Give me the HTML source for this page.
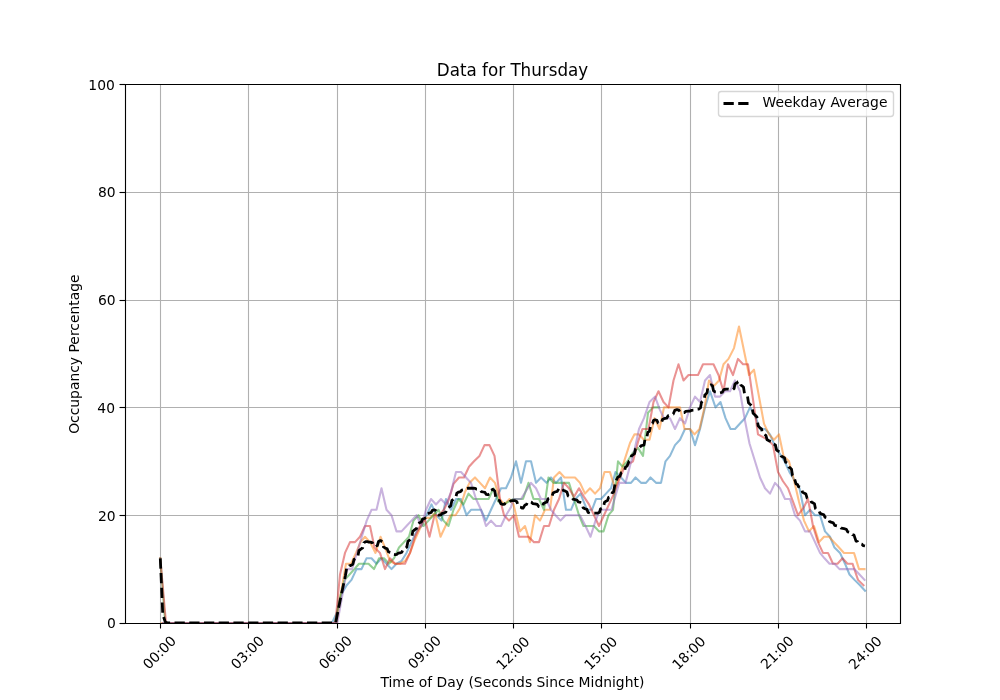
<!DOCTYPE html>
<html lang="en"><head><meta charset="utf-8"><title>Data for Thursday</title>
<style>html,body{margin:0;padding:0;background:#fff;}body{width:1000px;height:700px;overflow:hidden;}svg{display:block;}text{font-family:"DejaVu Sans","Liberation Sans",sans-serif;fill:#000;}</style></head><body>
<svg width="1000" height="700" viewBox="0 0 1000 700">
<rect x="0" y="0" width="1000" height="700" fill="#ffffff"/>
<g stroke="#b0b0b0" stroke-width="1.111">
<line x1="160.5" y1="84" x2="160.5" y2="623"/>
<line x1="248.5" y1="84" x2="248.5" y2="623"/>
<line x1="337.5" y1="84" x2="337.5" y2="623"/>
<line x1="425.5" y1="84" x2="425.5" y2="623"/>
<line x1="513.5" y1="84" x2="513.5" y2="623"/>
<line x1="601.5" y1="84" x2="601.5" y2="623"/>
<line x1="690.5" y1="84" x2="690.5" y2="623"/>
<line x1="778.5" y1="84" x2="778.5" y2="623"/>
<line x1="866.5" y1="84" x2="866.5" y2="623"/>
<line x1="125" y1="623.5" x2="900" y2="623.5"/>
<line x1="125" y1="515.5" x2="900" y2="515.5"/>
<line x1="125" y1="407.5" x2="900" y2="407.5"/>
<line x1="125" y1="300.5" x2="900" y2="300.5"/>
<line x1="125" y1="192.5" x2="900" y2="192.5"/>
<line x1="125" y1="84.5" x2="900" y2="84.5"/>
</g>
<g stroke="#000" stroke-width="1.111">
<line x1="160.5" y1="623" x2="160.5" y2="628.5"/>
<line x1="248.5" y1="623" x2="248.5" y2="628.5"/>
<line x1="337.5" y1="623" x2="337.5" y2="628.5"/>
<line x1="425.5" y1="623" x2="425.5" y2="628.5"/>
<line x1="513.5" y1="623" x2="513.5" y2="628.5"/>
<line x1="601.5" y1="623" x2="601.5" y2="628.5"/>
<line x1="690.5" y1="623" x2="690.5" y2="628.5"/>
<line x1="778.5" y1="623" x2="778.5" y2="628.5"/>
<line x1="866.5" y1="623" x2="866.5" y2="628.5"/>
<line x1="119.5" y1="623.5" x2="125" y2="623.5"/>
<line x1="119.5" y1="515.5" x2="125" y2="515.5"/>
<line x1="119.5" y1="407.5" x2="125" y2="407.5"/>
<line x1="119.5" y1="300.5" x2="125" y2="300.5"/>
<line x1="119.5" y1="192.5" x2="125" y2="192.5"/>
<line x1="119.5" y1="84.5" x2="125" y2="84.5"/>
</g>
<defs><clipPath id="ax"><rect x="125" y="84" width="775" height="539.5"/></clipPath></defs>
<g clip-path="url(#ax)" fill="none" stroke-width="2.083" stroke-linejoin="round" stroke-linecap="butt">
<path d="M163.00,623.00 L332.00,623.00 L337.00,612.22 L341.80,593.36 L346.70,585.27 L351.50,579.88 L356.50,569.10 L361.50,569.10 L366.50,558.32 L371.50,558.32 L376.50,563.71 L381.50,558.32 L386.50,563.71 L391.50,569.10 L396.50,563.71 L401.50,561.01 L406.50,552.93 L411.50,542.15 L416.50,531.37 L421.50,525.98 L426.50,515.20 L431.50,504.42 L436.50,515.20 L441.50,520.59 L446.00,499.03 L451.00,509.81 L456.00,499.03 L461.00,499.03 L466.50,515.20 L471.00,509.81 L476.00,509.81 L481.00,509.81 L486.00,520.59 L491.00,509.81 L496.00,499.03 L501.00,488.25 L506.00,488.25 L511.00,477.47 L516.00,461.30 L521.00,482.86 L526.00,461.30 L531.00,461.30 L536.00,482.86 L541.00,477.47 L546.50,482.86 L551.00,477.47 L556.00,482.86 L561.00,477.47 L566.00,509.81 L571.00,509.81 L575.50,499.03 L580.50,493.64 L587.00,509.81 L592.00,509.81 L596.00,499.03 L601.00,499.03 L606.00,493.64 L611.00,488.25 L615.50,472.08 L621.00,477.47 L626.00,482.86 L631.00,482.86 L635.50,477.47 L641.00,482.86 L646.00,482.86 L650.50,477.47 L656.00,482.86 L661.00,482.86 L665.50,461.30 L670.00,455.91 L675.00,445.13 L680.00,439.74 L685.00,428.96 L690.00,428.96 L695.00,445.13 L700.00,428.96 L705.00,407.40 L710.00,391.23 L715.50,407.40 L720.50,402.01 L725.50,418.18 L730.50,428.96 L735.00,428.96 L740.00,423.57 L745.00,418.18 L750.00,407.40 L755.00,415.49 L760.00,428.96 L765.00,428.96 L770.00,434.35 L774.50,445.13 L779.50,453.22 L784.50,461.30 L789.50,472.08 L794.50,480.17 L799.50,488.25 L805.00,515.20 L810.00,509.81 L815.00,515.20 L820.00,515.20 L825.00,531.37 L830.00,536.76 L834.50,547.54 L840.00,552.93 L845.00,563.71 L849.50,574.49 L854.50,579.88 L860.00,585.27 L865.00,590.66" stroke="#1f77b4" stroke-opacity="0.5" stroke-linecap="square"/>
<path d="M161.80,623.00 L336.40,623.00 L341.30,590.66 L346.00,563.71 L351.00,563.71 L356.00,552.93 L360.50,542.15 L365.00,536.76 L370.00,542.15 L375.50,552.93 L380.50,536.76 L385.00,547.54 L390.00,561.01 L395.00,563.71 L400.00,563.71 L405.00,561.01 L410.00,552.93 L415.00,539.46 L420.00,528.67 L425.00,517.89 L430.00,517.89 L435.00,513.04 L440.50,536.76 L445.50,525.98 L450.50,515.20 L455.50,515.20 L460.00,508.19 L465.00,492.02 L469.50,482.86 L475.00,477.47 L480.00,482.86 L485.00,488.25 L490.00,477.47 L495.00,482.86 L499.50,499.03 L504.50,504.42 L509.50,499.03 L513.50,504.42 L520.00,531.37 L525.00,525.98 L530.00,542.15 L535.00,515.20 L540.00,520.59 L545.00,509.81 L550.00,509.81 L554.00,477.47 L559.50,472.08 L564.50,477.47 L569.50,477.47 L575.00,477.47 L580.00,482.86 L585.00,493.64 L590.00,488.25 L595.00,493.64 L600.00,488.25 L604.50,472.08 L610.00,472.08 L615.00,488.25 L620.00,474.77 L625.00,458.61 L630.00,442.97 L634.50,434.35 L639.00,434.35 L644.00,439.74 L649.50,439.74 L654.50,418.18 L659.50,428.96 L664.00,407.40 L669.00,407.40 L674.00,407.40 L680.00,407.40 L684.50,428.96 L690.00,428.96 L694.50,434.35 L699.50,428.96 L704.50,407.40 L709.00,380.45 L714.00,385.84 L719.00,380.45 L723.50,364.28 L728.50,358.89 L734.00,348.11 L739.00,326.55 L744.00,350.81 L749.00,375.06 L754.00,369.67 L759.00,396.62 L764.00,423.57 L769.00,434.35 L774.00,439.74 L779.00,434.35 L783.50,455.91 L789.00,461.30 L794.00,480.17 L799.00,501.73 L804.00,520.59 L809.00,531.37 L814.00,525.98 L819.00,542.15 L824.00,536.76 L829.00,536.76 L834.00,542.15 L839.00,547.54 L844.00,552.93 L849.00,552.93 L854.00,552.93 L859.00,569.10 L864.50,569.10" stroke="#ff7f0e" stroke-opacity="0.5" stroke-linecap="square"/>
<path d="M160.30,558.32 L165.20,623.00 L335.00,623.00 L339.70,598.75 L344.60,579.88 L349.50,574.49 L354.40,569.10 L359.00,563.71 L364.00,563.71 L368.50,563.71 L374.00,569.10 L379.00,558.32 L384.00,558.32 L389.00,563.71 L394.00,558.32 L399.00,547.54 L404.00,542.15 L409.00,536.76 L413.50,520.59 L418.50,515.20 L423.50,525.98 L428.50,520.59 L433.50,515.20 L438.50,509.81 L443.50,520.59 L448.50,525.98 L453.50,509.81 L458.50,499.03 L463.50,504.42 L468.50,493.64 L473.50,499.03 L478.50,499.03 L483.50,499.03 L488.50,499.03 L493.50,488.25 L498.50,501.73 L503.50,504.42 L508.50,501.73 L513.50,499.03 L518.50,499.03 L523.00,499.03 L528.50,482.86 L533.50,499.03 L539.00,499.03 L544.00,509.81 L548.50,477.47 L553.50,482.86 L559.00,482.86 L564.00,482.86 L569.00,482.86 L574.00,499.03 L579.00,515.20 L583.50,525.98 L588.50,525.98 L594.00,525.98 L599.00,531.37 L603.50,531.37 L608.50,515.20 L613.00,509.81 L618.00,461.30 L622.50,466.69 L627.50,461.30 L632.50,453.22 L638.00,447.83 L643.00,455.91 L648.00,412.79 L653.00,407.40 L659.00,407.40" stroke="#2ca02c" stroke-opacity="0.5" stroke-linecap="square"/>
<path d="M160.30,558.32 L166.00,623.00 L335.40,623.00 L340.00,574.49 L345.00,552.93 L350.00,542.15 L355.00,542.15 L360.00,536.76 L365.00,525.98 L370.00,525.98 L374.50,547.54 L380.00,552.93 L385.00,569.10 L390.00,558.32 L395.00,563.71 L400.00,563.71 L405.00,563.71 L410.00,552.93 L415.00,536.76 L420.00,525.98 L424.50,517.89 L429.50,536.76 L434.50,515.20 L439.00,515.20 L444.00,509.81 L449.00,499.03 L453.50,483.94 L459.00,477.47 L464.00,477.47 L469.00,466.69 L474.00,461.30 L479.50,455.91 L484.50,445.13 L489.50,445.13 L494.50,455.91 L500.00,499.03 L504.00,515.20 L509.00,520.59 L514.00,515.20 L519.00,536.76 L524.00,536.76 L528.50,536.76 L534.00,542.15 L539.00,542.15 L544.00,525.98 L549.00,525.98 L554.00,509.81 L559.00,499.03 L564.00,482.86 L569.00,488.25 L574.00,496.87 L579.00,488.25 L584.00,496.87 L589.00,504.42 L594.00,515.20 L599.00,525.98 L604.00,515.20 L609.00,504.42 L614.00,493.64 L619.00,480.17 L624.00,468.31 L629.00,464.00 L633.00,461.30 L638.00,441.90 L642.50,428.96 L648.50,428.96 L653.50,402.01 L658.50,391.23 L663.50,402.01 L668.50,407.40 L673.50,380.45 L678.50,364.28 L683.50,380.45 L688.50,375.06 L693.50,375.06 L698.00,375.06 L703.00,364.28 L708.00,364.28 L713.50,364.28 L718.50,375.06 L723.50,391.23 L728.00,364.28 L733.00,375.06 L738.00,358.89 L743.00,364.28 L748.00,364.28 L753.00,399.32 L758.00,434.35 L763.00,437.05 L768.00,439.74 L773.00,445.13 L778.00,472.08 L783.00,481.24 L788.00,488.25 L793.00,501.73 L798.00,515.20 L803.00,508.73 L808.00,499.03 L813.00,525.98 L818.00,542.15 L823.00,552.93 L828.00,552.93 L833.00,563.71 L837.50,563.71 L842.50,558.32 L847.50,563.71 L852.50,563.71 L858.00,579.88 L863.50,585.27" stroke="#d62728" stroke-opacity="0.5" stroke-linecap="square"/>
<path d="M163.00,623.00 L337.30,623.00 L342.20,596.05 L347.10,569.10 L352.00,569.10 L356.90,552.93 L361.80,536.76 L366.70,520.59 L371.50,509.81 L376.50,509.81 L381.50,488.25 L386.50,509.81 L391.50,515.20 L396.50,531.37 L401.50,531.37 L406.50,525.98 L411.50,520.59 L416.50,515.20 L421.50,525.98 L426.00,509.81 L431.00,499.03 L436.00,504.42 L441.00,499.03 L446.00,504.42 L451.00,492.02 L456.00,472.08 L461.00,472.08 L466.00,477.47 L471.00,482.86 L476.00,499.03 L481.00,509.81 L486.00,525.98 L491.00,520.59 L496.00,525.98 L501.00,525.98 L506.00,515.20 L511.00,507.12 L513.50,499.03 L518.50,499.03 L521.00,499.03 L526.00,490.95 L531.00,482.86 L536.00,488.25 L541.00,499.03 L546.00,499.03 L551.00,509.81 L555.50,515.20 L560.50,520.59 L565.50,515.20 L570.50,515.20 L575.50,515.20 L580.00,515.20 L585.50,525.98 L590.50,536.76 L595.50,520.59 L600.00,509.81 L605.00,509.81 L611.50,509.81 L615.50,495.80 L619.30,482.86 L625.50,482.86 L630.50,464.00 L635.00,447.83 L639.00,428.96 L644.00,418.18 L649.50,402.01 L655.00,396.62 L660.00,410.10 L664.00,418.18 L670.00,418.18 L675.00,428.96 L680.00,418.18 L685.00,423.57 L690.00,407.40 L695.00,396.62 L700.00,402.01 L705.00,380.45 L710.00,375.06 L715.00,396.62 L720.00,396.62 L725.00,391.23 L730.00,391.23 L735.00,380.45 L740.00,391.23 L744.50,418.18 L749.50,443.51 L755.00,461.30 L760.00,477.47 L765.00,488.25 L770.00,493.64 L775.00,482.86 L780.00,488.25 L785.00,499.03 L790.00,499.03 L795.00,515.20 L800.00,520.59 L805.00,531.37 L810.00,531.37 L815.00,542.15 L820.00,552.93 L824.50,558.32 L829.50,563.71 L834.50,563.71 L839.50,569.10 L844.50,569.10 L849.50,569.10 L854.50,569.10 L859.50,574.49 L864.50,579.88" stroke="#9467bd" stroke-opacity="0.5" stroke-linecap="square"/>
<path d="M160.30,558.32 L162.75,614.38 L165.20,621.92 L167.60,623.00 L335.60,623.00 L340.50,598.75 L345.40,575.57 L346.60,568.56 L348.27,568.04 L349.33,565.84 L351.00,565.33 L352.86,564.21 L354.04,559.44 L355.90,558.32 L357.76,556.85 L358.94,550.62 L360.80,549.16 L362.66,547.95 L363.84,542.82 L365.70,541.61 L367.56,541.70 L368.74,542.06 L370.60,542.15 L372.46,542.84 L373.64,545.77 L375.50,546.46 L377.36,545.51 L378.54,541.48 L380.40,540.53 L382.26,541.74 L383.44,546.87 L385.30,548.08 L387.16,548.77 L388.34,551.70 L390.20,552.39 L392.06,552.74 L393.24,554.20 L395.10,554.55 L396.96,554.29 L398.14,553.19 L400.00,552.93 L401.86,552.24 L403.04,549.31 L404.90,548.62 L406.76,547.24 L407.94,541.37 L409.80,539.99 L411.62,538.36 L412.78,531.39 L414.60,529.75 L416.46,528.63 L417.64,523.87 L419.50,522.75 L421.36,522.06 L422.54,519.12 L424.40,518.43 L426.26,517.57 L427.44,513.91 L429.30,513.04 L431.16,512.53 L432.34,510.33 L434.20,509.81 L436.06,510.67 L437.24,514.34 L439.10,515.20 L440.96,514.86 L442.14,513.39 L444.00,513.04 L445.86,512.10 L447.04,508.06 L448.90,507.12 L450.76,505.82 L451.94,500.32 L453.80,499.03 L455.66,497.91 L456.84,493.14 L458.70,492.02 L460.56,491.68 L461.74,490.21 L463.60,489.87 L465.46,489.61 L466.64,488.51 L468.50,488.25 L470.36,488.25 L471.54,488.25 L473.40,488.25 L475.26,488.42 L476.44,489.16 L478.30,489.33 L480.12,489.76 L481.28,491.59 L483.10,492.02 L484.96,492.45 L486.14,494.29 L488.00,494.72 L489.86,493.86 L491.04,490.19 L492.90,489.33 L494.76,491.05 L495.94,498.38 L497.80,500.11 L499.66,500.80 L500.84,503.73 L502.70,504.42 L504.56,504.08 L505.74,502.61 L507.60,502.26 L509.46,502.01 L510.64,500.91 L512.50,500.65 L515.00,500.65 L516.90,501.68 L518.10,506.08 L520.00,507.12 L521.14,507.29 L521.86,508.02 L523.00,508.19 L525.00,504.96 L526.52,504.44 L527.48,502.24 L529.00,501.73 L531.28,502.07 L532.72,503.54 L535.00,503.88 L537.28,504.40 L538.72,506.60 L541.00,507.12 L542.52,506.43 L543.48,503.49 L545.00,502.80 L546.90,502.03 L548.10,498.73 L550.00,497.95 L551.90,497.00 L553.10,492.97 L555.00,492.02 L557.28,491.42 L558.72,488.85 L561.00,488.25 L562.52,488.68 L563.48,490.51 L565.00,490.95 L566.90,491.89 L568.10,495.93 L570.00,496.87 L571.90,497.31 L573.10,499.14 L575.00,499.57 L576.90,500.00 L578.10,501.83 L580.00,502.26 L581.90,503.30 L583.10,507.70 L585.00,508.73 L586.90,509.42 L588.10,512.35 L590.00,513.04 L593.04,513.04 L594.96,513.04 L598.00,513.04 L599.52,512.27 L600.48,508.97 L602.00,508.19 L603.52,507.07 L604.48,502.31 L606.00,501.19 L607.52,500.50 L608.48,497.56 L610.00,496.87 L611.33,496.10 L612.17,492.80 L613.50,492.02 L615.50,481.78 L618.00,476.93 L619.90,476.15 L621.10,472.86 L623.00,472.08 L624.52,471.13 L625.48,467.10 L627.00,466.15 L629.00,461.30 L630.52,460.27 L631.48,455.87 L633.00,454.83 L634.52,453.71 L635.48,448.95 L637.00,447.83 L639.66,447.39 L641.34,445.56 L644.00,445.13 L645.00,439.20 L646.71,437.91 L647.79,432.41 L649.50,431.12 L651.00,424.11 L652.52,423.42 L653.48,420.49 L655.00,419.80 L656.90,420.40 L658.10,422.97 L660.00,423.57 L661.52,422.79 L662.48,419.50 L664.00,418.72 L666.66,418.12 L668.34,415.55 L671.00,414.95 L673.28,414.08 L674.72,410.42 L677.00,409.56 L678.90,410.07 L680.10,412.27 L682.00,412.79 L684.28,412.53 L685.72,411.43 L688.00,411.17 L690.28,411.00 L691.72,410.27 L694.00,410.10 L695.90,409.92 L697.10,409.19 L699.00,409.02 L700.52,407.72 L701.48,402.23 L703.00,400.93 L704.14,399.81 L704.86,395.05 L706.00,393.93 L707.14,392.63 L707.86,387.13 L709.00,385.84 L711.00,384.76 L712.52,385.88 L713.48,390.65 L715.00,391.77 L716.90,391.94 L718.10,392.67 L720.00,392.85 L722.28,392.24 L723.72,389.68 L726.00,389.07 L728.66,389.16 L730.34,389.53 L733.00,389.61 L734.14,388.58 L734.86,384.18 L736.00,383.14 L737.14,382.89 L737.86,381.79 L739.00,381.53 L740.14,382.22 L740.86,385.15 L742.00,385.84 L743.52,387.31 L744.48,393.54 L746.00,395.00 L747.52,396.47 L748.48,402.70 L750.00,404.17 L751.90,405.89 L753.10,413.22 L755.00,414.95 L756.90,417.02 L758.10,425.81 L760.00,427.88 L761.52,428.92 L762.48,433.32 L764.00,434.35 L765.90,435.38 L767.10,439.78 L769.00,440.82 L770.90,441.34 L772.10,443.53 L774.00,444.05 L775.52,445.17 L776.48,449.94 L778.00,451.06 L779.90,452.01 L781.10,456.04 L783.00,456.99 L784.52,457.94 L785.48,461.97 L787.00,462.92 L788.14,463.69 L788.86,466.99 L790.00,467.77 L791.52,469.23 L792.48,475.46 L794.00,476.93 L796.00,483.94 L797.52,484.46 L798.48,486.65 L800.00,487.17 L801.52,488.12 L802.48,492.15 L804.00,493.10 L805.90,494.05 L807.10,498.08 L809.00,499.03 L810.52,499.63 L811.48,502.20 L813.00,502.80 L814.52,503.92 L815.48,508.69 L817.00,509.81 L818.90,510.50 L820.10,513.43 L822.00,514.12 L823.90,514.73 L825.10,517.29 L827.00,517.89 L828.52,518.58 L829.48,521.52 L831.00,522.21 L833.28,522.81 L834.72,525.38 L837.00,525.98 L839.66,526.41 L841.34,528.24 L844.00,528.67 L846.28,529.28 L847.72,531.84 L850.00,532.45 L851.52,532.88 L852.48,534.71 L854.00,535.14 L856.00,541.07 L857.52,541.50 L858.48,543.34 L860.00,543.77 L861.90,544.11 L863.10,545.58 L865.00,545.92" stroke="#000" stroke-width="2.778" stroke-dasharray="10.28,4.44"/>
</g>
<g stroke="#000" stroke-width="1.111" fill="none" stroke-linecap="square">
<path d="M125.5,84.5 H900.5 V623.5 H125.5 Z"/>
</g>
<g font-size="13.889px">
<text x="115.74" y="627.60" text-anchor="end">0</text>
<text x="115.60" y="520.54" text-anchor="end">20</text>
<text x="115.00" y="412.53" text-anchor="end">40</text>
<text x="115.62" y="304.60" text-anchor="end">60</text>
<text x="115.66" y="196.57" text-anchor="end">80</text>
<text x="114.80" y="89.56" text-anchor="end">100</text>
<text transform="translate(162.83,655.80) rotate(-45)" text-anchor="middle">00:00</text>
<text transform="translate(250.88,655.80) rotate(-45)" text-anchor="middle">03:00</text>
<text transform="translate(338.89,655.75) rotate(-45)" text-anchor="middle">06:00</text>
<text transform="translate(427.93,655.72) rotate(-45)" text-anchor="middle">09:00</text>
<text transform="translate(516.25,656.55) rotate(-45)" text-anchor="middle">12:00</text>
<text transform="translate(604.18,656.52) rotate(-45)" text-anchor="middle">15:00</text>
<text transform="translate(692.26,656.45) rotate(-45)" text-anchor="middle">18:00</text>
<text transform="translate(780.68,655.98) rotate(-45)" text-anchor="middle">21:00</text>
<text transform="translate(868.66,656.02) rotate(-45)" text-anchor="middle">24:00</text>
<text x="512.4" y="687.35" text-anchor="middle">Time of Day (Seconds Since Midnight)</text>
<text transform="translate(78.9,354.16) rotate(-90)" text-anchor="middle">Occupancy Percentage</text>
</g>
<text transform="translate(512.5,76) scale(1.004,1.085)" text-anchor="middle" font-size="16.667px">Data for Thursday</text>
<rect x="718.5" y="91.5" width="175" height="25" rx="2.8" ry="2.8" fill="#ffffff" fill-opacity="0.8" stroke="#cccccc" stroke-opacity="0.8" stroke-width="1.389"/>
<path d="M723.5,103.5 L751.3,103.5" stroke="#000" stroke-width="2.778" stroke-dasharray="10.28,4.44" fill="none"/>
<text x="762.5" y="106.8" font-size="13.889px">Weekday Average</text>
</svg></body></html>
